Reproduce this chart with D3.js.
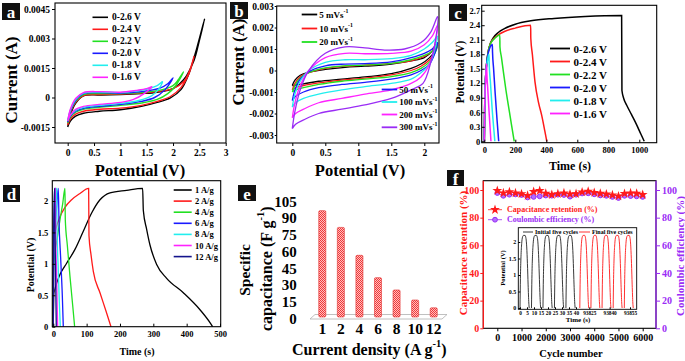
<!DOCTYPE html>
<html><head><meta charset="utf-8">
<script src="https://cdn.jsdelivr.net/npm/d3@7"></script>
<style>
body{margin:0;background:#fff}
svg{display:block}
text{font-family:"Liberation Serif","Times New Roman",serif;font-weight:bold}
</style>
</head><body>
<svg id="chart" width="685" height="361"></svg>
<script>
// ---------------- DATA ----------------
// Panel a: CV at different potential windows (V, A)
const aLabels = ["0-2.6 V","0-2.4 V","0-2.2 V","0-2.0 V","0-1.8 V","0-1.6 V"];
const cvA26 = [[0,-0.0015],[0.05,-0.0012],[0.15,-0.00095],[0.3,-0.0008],[0.6,-0.0007],[1.0,-0.00062],[1.4,-0.00045],[1.7,-0.00025],[1.95,-0.00002],[2.15,0.0004],[2.3,0.0012],[2.45,0.0025],[2.6,0.004],[2.5,0.0029],[2.4,0.0019],[2.2,0.0009],[2.0,0.00045],[1.7,0.00027],[1.4,0.0002],[1.0,0.00015],[0.6,0.00013],[0.3,0.00008],[0.15,-0.0003],[0.05,-0.0009],[0,-0.0015]];
const cvA24 = [[0,-0.0014],[0.05,-0.0011],[0.15,-0.00085],[0.3,-0.0007],[0.6,-0.0006],[1.0,-0.00054],[1.4,-0.0004],[1.7,-0.0002],[1.95,0.00005],[2.15,0.0005],[2.3,0.0012],[2.4,0.0021],[2.32,0.0014],[2.2,0.0008],[2.0,0.00045],[1.7,0.0003],[1.4,0.00022],[1.0,0.00017],[0.6,0.00015],[0.3,0.0001],[0.15,-0.00025],[0.05,-0.0008],[0,-0.0014]];
const cvA22 = [[0,-0.0013],[0.05,-0.001],[0.15,-0.00075],[0.3,-0.0006],[0.6,-0.0005],[1.0,-0.0004],[1.4,-0.00028],[1.7,-0.0001],[1.9,0.0002],[2.05,0.0006],[2.2,0.0013],[2.1,0.0009],[2.0,0.0006],[1.8,0.0004],[1.4,0.00025],[1.0,0.0002],[0.6,0.0002],[0.3,0.00015],[0.15,-0.0002],[0.05,-0.0007],[0,-0.0013]];
const cvA20 = [[0,-0.00125],[0.05,-0.00095],[0.15,-0.0007],[0.3,-0.00055],[0.6,-0.00045],[1.0,-0.00035],[1.4,-0.0002],[1.65,0.0],[1.85,0.0004],[2.0,0.001],[1.9,0.0007],[1.75,0.00048],[1.4,0.0003],[1.0,0.00022],[0.6,0.00025],[0.3,0.0002],[0.15,-0.00015],[0.05,-0.0007],[0,-0.00125]];
const cvA18 = [[0,-0.0012],[0.05,-0.0009],[0.15,-0.00065],[0.3,-0.0005],[0.6,-0.0004],[1.0,-0.0003],[1.35,-0.00015],[1.6,0.0001],[1.72,0.0004],[1.8,0.0008],[1.7,0.0006],[1.5,0.00042],[1.2,0.0003],[1.0,0.00025],[0.6,0.00028],[0.3,0.00022],[0.15,-0.0001],[0.05,-0.00065],[0,-0.0012]];
const cvA16 = [[0,-0.0012],[0.05,-0.0009],[0.15,-0.0006],[0.3,-0.00045],[0.6,-0.00035],[1.0,-0.00025],[1.25,-0.0001],[1.45,0.0002],[1.6,0.00055],[1.5,0.00045],[1.3,0.00036],[1.0,0.00027],[0.6,0.0003],[0.3,0.00025],[0.15,-0.00005],[0.05,-0.0006],[0,-0.0012]];
const aXTicks = [0,0.5,1,1.5,2,2.5,3];
const aYTicks = [-0.0015,0,0.0015,0.003,0.0045];

// Panel b: CV at different scan rates
const bLabels = ["5 mVs","10 mVs","20 mVs","50 mVs","100 mVs","200 mVs","300 mVs"];
const cvB5 = [[0,-0.0007],[0.04,-0.00045],[0.12,-0.00022],[0.25,-0.00008],[0.5,0.00005],[0.8,0.00015],[1.1,0.0002],[1.5,0.0003],[1.8,0.00045],[2.0,0.0006],[2.12,0.0009],[2.2,0.0013],[2.16,0.0009],[2.08,0.0006],[1.95,0.0003],[1.8,0.0001],[1.5,-0.00015],[1.1,-0.0003],[0.75,-0.0004],[0.4,-0.0005],[0.17,-0.00062],[0.05,-0.00068],[0,-0.0007]];
const cvB10 = [[0,-0.0009],[0.04,-0.0006],[0.12,-0.00028],[0.25,-0.0001],[0.5,0.0001],[0.8,0.0002],[1.1,0.00025],[1.5,0.00033],[1.8,0.00045],[2.0,0.00065],[2.12,0.0009],[2.2,0.00125],[2.16,0.00085],[2.08,0.0005],[1.95,0.0002],[1.8,0.0],[1.5,-0.0002],[1.1,-0.00035],[0.75,-0.00045],[0.4,-0.00058],[0.17,-0.0007],[0.05,-0.0008],[0,-0.0009]];
const cvB20 = [[0,-0.001],[0.04,-0.0007],[0.12,-0.00035],[0.25,-0.0001],[0.5,0.00012],[0.8,0.00022],[1.1,0.00025],[1.5,0.00033],[1.8,0.0005],[2.0,0.0007],[2.12,0.0009],[2.2,0.0012],[2.16,0.0008],[2.08,0.0004],[1.95,0.0001],[1.8,-0.0001],[1.5,-0.00028],[1.1,-0.0004],[0.75,-0.0005],[0.4,-0.00065],[0.17,-0.0008],[0.05,-0.0009],[0,-0.001]];
const cvB50 = [[0,-0.0014],[0.04,-0.0009],[0.12,-0.0004],[0.25,-0.00005],[0.5,0.00022],[0.8,0.0003],[1.1,0.00032],[1.5,0.0004],[1.8,0.0006],[2.0,0.0008],[2.12,0.001],[2.2,0.0013],[2.16,0.0008],[2.08,0.0003],[1.95,0.0],[1.8,-0.0002],[1.5,-0.0004],[1.1,-0.00055],[0.75,-0.00065],[0.4,-0.0008],[0.17,-0.001],[0.05,-0.0012],[0,-0.0014]];
const cvB100 = [[0,-0.0017],[0.04,-0.0011],[0.12,-0.0005],[0.25,0.0],[0.5,0.00038],[0.8,0.0005],[1.1,0.0005],[1.5,0.00055],[1.8,0.0007],[2.0,0.001],[2.12,0.0013],[2.2,0.0016],[2.16,0.001],[2.08,0.0003],[1.95,-0.0001],[1.8,-0.0004],[1.5,-0.0006],[1.1,-0.00075],[0.75,-0.0009],[0.4,-0.0011],[0.17,-0.0013],[0.05,-0.0015],[0,-0.0017]];
const cvB200 = [[0,-0.0022],[0.04,-0.0015],[0.12,-0.0007],[0.25,0.0],[0.5,0.0006],[0.8,0.0008],[1.1,0.00078],[1.5,0.0008],[1.8,0.0009],[2.0,0.0012],[2.12,0.0016],[2.2,0.0021],[2.16,0.0012],[2.08,0.0003],[1.95,-0.0003],[1.8,-0.0006],[1.5,-0.0009],[1.1,-0.0011],[0.75,-0.0013],[0.4,-0.0015],[0.17,-0.0018],[0.05,-0.002],[0,-0.0022]];
const cvB300 = [[0,-0.0027],[0.04,-0.0019],[0.12,-0.0009],[0.25,0.0],[0.5,0.0008],[0.8,0.0011],[1.1,0.00105],[1.4,0.00095],[1.7,0.001],[1.95,0.0013],[2.1,0.0018],[2.2,0.0025],[2.17,0.0014],[2.1,0.0004],[1.98,-0.0006],[1.8,-0.0009],[1.5,-0.0013],[1.1,-0.0016],[0.75,-0.0018],[0.4,-0.002],[0.17,-0.0023],[0.05,-0.0025],[0,-0.0027]];
const bXTicks = [0,0.5,1,1.5,2];
const bYTicks = [-0.003,-0.002,-0.001,0,0.001,0.002,0.003];

// Panel c: GCD at different windows (s, V)
const cLabels = ["0-2.6 V","0-2.4 V","0-2.2 V","0-2.0 V","0-1.8 V","0-1.6 V"];
const gcdC26 = [[0,0],[3,0.8],[8,1.3],[15,1.6],[25,1.85],[40,2.03],[60,2.15],[90,2.25],[130,2.33],[200,2.42],[300,2.49],[450,2.54],[650,2.58],[886,2.6],[888,1.05],[900,0.88],[918,0.75],[950,0.55],[983,0.34],[1010,0.15],[1032,0]];
const gcdC24 = [[0,0],[3,0.8],[8,1.3],[15,1.6],[25,1.85],[40,2.02],[60,2.12],[90,2.2],[130,2.27],[200,2.34],[299,2.4],[300,2.13],[310,1.8],[327,1.23],[350,0.8],[370,0.54],[390,0.22],[403,0]];
const gcdC22 = [[0,0],[3,0.8],[8,1.3],[15,1.6],[25,1.85],[40,2.02],[65,2.12],[100,2.2],[101,1.95],[110,1.75],[123,1.44],[140,1.05],[155,0.75],[175,0.35],[193,0]];
const gcdC20 = [[0,0],[3,0.8],[8,1.3],[15,1.6],[25,1.82],[38,1.95],[52,2.0],[53,1.85],[60,1.5],[70,1.0],[82,0.45],[93,0]];
const gcdC18 = [[0,0],[3,0.8],[8,1.3],[15,1.55],[22,1.7],[30,1.8],[31,1.65],[40,1.2],[50,0.7],[60,0.3],[68,0]];
const gcdC16 = [[0,0],[3,0.8],[8,1.25],[15,1.6],[16,1.45],[22,1.1],[30,0.65],[37,0.3],[43,0]];
const cXTicks = [0,200,400,600,800,1000];
const cYTicks = [0,0.3,0.6,0.9,1.2,1.5,1.8,2.1,2.4,2.7];

// Panel d: GCD at different current densities (s, V)
const dLabels = ["1 A/g","2 A/g","4 A/g","6 A/g","8 A/g","10 A/g","12 A/g"];
const gcdD1 = [[0,0],[1,0.5],[5,0.6],[20,0.83],[40,1.01],[65,1.23],[90,1.52],[115,1.81],[140,2.02],[170,2.13],[220,2.17],[268,2.2],[270,1.85],[280,1.55],[290,1.3],[310,0.99],[340,0.77],[390,0.54],[440,0.27],[472,0.05],[478,0]];
const gcdD2 = [[0,0],[1,1.0],[4,1.45],[10,1.6],[20,1.75],[35,1.9],[55,2.02],[80,2.12],[106,2.2],[107,1.45],[113,1.15],[120,0.88],[140,0.54],[158,0.25],[173,0]];
const gcdD4 = [[0,0],[1,0.9],[4,1.15],[10,1.35],[20,1.7],[28,1.95],[35,2.2],[36,1.7],[42,1.3],[50,0.8],[58,0.35],[64,0]];
const gcdD6 = [[0,0],[1,1.2],[5,1.6],[10,1.9],[15,2.2],[17,1.7],[22,1.1],[27,0.5],[30,0]];
const gcdD8 = [[0,0],[1,1.3],[4,1.7],[7,2.0],[10,2.2],[11,1.6],[15,0.9],[18,0.4],[21,0]];
const gcdD10 = [[0,0],[1,1.4],[3,1.8],[6,2.2],[7,1.6],[10,0.8],[13,0]];
const gcdD12 = [[0,0],[1,1.5],[2,1.9],[4,2.2],[5,1.6],[7,0.8],[9,0]];
const dXTicks = [0,100,200,300,400,500];
const dYTicks = [0,0.5,1,1.5,2];

// Panel e: specific capacitance
const eCats = ["1","2","4","6","8","10","12"];
const eVals = [97,82,57,37,26,17,10];
const eYTicks = [0,15,30,45,60,75,90,105];

// Panel f: cycling stability
const fCycles = [0,250,500,750,1000,1250,1500,1750,2000,2250,2500,2750,3000,3250,3500,3750,4000,4250,4500,4750,5000,5250,5500,5750,6000];
const fRetention = [99.5,97.8,98.6,97.8,97.2,96.0,98.8,99.5,97.5,96.6,97.3,97.8,97.0,97.3,98.5,99.0,98.1,97.5,97.0,96.4,95.6,97.4,97.8,97.5,96.6];
const fEfficiency = [97.8,95.8,96.6,96.8,96.4,94.6,95.0,95.4,96.0,95.9,96.6,96.4,95.2,96.6,97.5,97.6,96.9,96.1,95.8,95.0,94.2,95.8,95.6,95.4,95.0];
const fXTicks = [0,1000,2000,3000,4000,5000,6000];
const fYTicks = [0,20,40,60,80,100];
// inset: one GCD cycle (s, V) and cycle start times
const insetCycle = [[0,0],[0.3,0.9],[0.7,1.55],[1.2,1.95],[1.8,2.15],[2.5,2.2],[3.6,2.2],[4.3,2.1],[4.8,1.85],[5.3,1.35],[5.8,0.7],[6.3,0.15],[6.6,0]];
const insetStartsInitial = [0,8.2,16.4,24.6,32.8];
const insetStartsFinal = [93818,93826.2,93834.4,93842.6,93850.8];
const insetX1Ticks = [0,5,10,15,20,25,30,35,40];
const insetX2Ticks = [93825,93840,93855];
const insetYTicks = [0,0.5,1,1.5,2];

// ---------------- DRAW ----------------
const svg = d3.select("#chart");
const COL = {k:"#000000", r:"#ff1a1a", g:"#22e022", b:"#1a1aff", c:"#22eeee", m:"#ff22ff", p:"#9a2cf5", n:"#14148c"};

function frame(x0,y0,x1,y1,col){
  svg.append("rect").attr("x",x0).attr("y",y0).attr("width",x1-x0).attr("height",y1-y0)
    .attr("fill","none").attr("stroke",col||"#000").attr("stroke-width",1.1);
}
function axis(gen, tx, ty, fs, col){
  const g = svg.append("g").attr("transform",`translate(${tx},${ty})`).call(gen);
  g.select(".domain").remove();
  g.selectAll("line").attr("stroke",col||"#000");
  g.selectAll("text").style("font-size",fs+"px").attr("fill",col||"#000");
  return g;
}
function label(txt,x,y,fs,opts){
  opts=opts||{};
  const t = svg.append("text").attr("x",x).attr("y",y).style("font-size",fs+"px")
    .attr("text-anchor",opts.anchor||"middle").attr("fill",opts.fill||"#000");
  if(opts.rot) t.attr("transform",`rotate(${opts.rot},${x},${y})`);
  if(opts.dominant) t.attr("dominant-baseline",opts.dominant);
  t.text(txt);
  return t;
}
function supText(parts,x,y,fs,opts){
  opts=opts||{};
  const t = svg.append("text").attr("x",x).attr("y",y).style("font-size",fs+"px")
    .attr("text-anchor",opts.anchor||"start").attr("fill",opts.fill||"#000");
  if(opts.rot) t.attr("transform",`rotate(${opts.rot},${x},${y})`);
  t.attr("dominant-baseline","central");
  t.append("tspan").text(parts[0]);
  t.append("tspan").attr("dy",-fs*0.38).style("font-size",(fs*0.65)+"px").text(parts[1]);
  if(parts[2]!==undefined) t.append("tspan").attr("dy",fs*0.38).text(parts[2]);
  return t;
}
function panelTag(letter,x,y,w,h){
  svg.append("rect").attr("x",x).attr("y",y).attr("width",w).attr("height",h).attr("fill","#111");
  svg.append("text").attr("x",x+w/2).attr("y",y+h/2+1).attr("text-anchor","middle")
    .attr("dominant-baseline","central").attr("fill","#fff").style("font-size","17px").text(letter);
}
const fmt = d=>String(+d.toFixed(5));

// ===== Panel a =====
{
  const x = d3.scaleLinear().domain([0,3]).range([67.7,225.7]);
  const y = d3.scaleLinear().domain([-0.0015,0.0045]).range([127,9]);
  const line = d3.line().x(d=>x(d[0])).y(d=>y(d[1])).curve(d3.curveCatmullRom.alpha(0.5));
  const series = [[cvA26,COL.k],[cvA24,COL.r],[cvA22,COL.g],[cvA20,COL.b],[cvA18,COL.c],[cvA16,COL.m]];
  series.forEach(s=>svg.append("path").attr("d",line(s[0])).attr("fill","none").attr("stroke",s[1]).attr("stroke-width",1.4));
  frame(55,3,226,143);
  axis(d3.axisBottom(x).tickValues(aXTicks).tickFormat(fmt).tickSize(3).tickPadding(3),0,143,9.5);
  axis(d3.axisLeft(y).tickValues(aYTicks).tickFormat(fmt).tickSize(3).tickPadding(2),55,0,9.5);
  label("Current (A)",17,80,17,{rot:-90});
  label("Potential (V)",140,176,16.5);
  aLabels.forEach((t,i)=>{
    const yy = 17.3+12*i;
    svg.append("line").attr("x1",92.5).attr("x2",108).attr("y1",yy).attr("y2",yy).attr("stroke",series[i][1]).attr("stroke-width",1.6);
    label(t,112,yy,9.5,{anchor:"start",dominant:"central"});
  });
  panelTag("a",2,3,18,17);
}

// ===== Panel b =====
{
  const x = d3.scaleLinear().domain([0,2]).range([292.3,424.3]);
  const y = d3.scaleLinear().domain([-0.003,0.003]).range([135,6]);
  const line = d3.line().x(d=>x(d[0])).y(d=>y(d[1])).curve(d3.curveCatmullRom.alpha(0.5));
  const series = [[cvB5,COL.k],[cvB10,COL.r],[cvB20,COL.g],[cvB50,COL.b],[cvB100,COL.c],[cvB200,COL.m],[cvB300,COL.p]];
  series.forEach(s=>svg.append("path").attr("d",line(s[0])).attr("fill","none").attr("stroke",s[1]).attr("stroke-width",1.3));
  frame(276.7,6,439,143);
  axis(d3.axisBottom(x).tickValues(bXTicks).tickFormat(fmt).tickSize(3).tickPadding(3),0,143,9.5);
  axis(d3.axisLeft(y).tickValues(bYTicks).tickFormat(fmt).tickSize(2).tickPadding(1),276.7,0,9.5);
  label("Current (A)",244,62,17,{rot:-90});
  label("Potential (V)",360,176,16.5);
  const pos = [[301.7,14.5],[301.7,28.5],[301.7,42],[381.7,89.5],[381.7,102],[381.7,114.5],[381.7,127.3]];
  bLabels.forEach((t,i)=>{
    const [lx,ly]=pos[i];
    svg.append("line").attr("x1",lx).attr("x2",lx+15.5).attr("y1",ly).attr("y2",ly).attr("stroke",series[i][1]).attr("stroke-width",1.8);
    supText([t+"","-1"],lx+17.5,ly,9);
  });
  panelTag("b",230,2,18,17);
}

// ===== Panel c =====
{
  const x = d3.scaleLinear().domain([0,1000]).range([484.3,639.3]);
  const y = d3.scaleLinear().domain([0,2.7]).range([141.3,10.7]);
  const line = d3.line().x(d=>x(d[0])).y(d=>y(d[1])).curve(d3.curveMonotoneX);
  const series = [[gcdC26,COL.k],[gcdC24,COL.r],[gcdC22,COL.g],[gcdC20,COL.b],[gcdC18,COL.c],[gcdC16,COL.m]];
  series.forEach(s=>svg.append("path").attr("d",line(s[0])).attr("fill","none").attr("stroke",s[1]).attr("stroke-width",1.5));
  frame(481.7,5.3,656.7,142.7);
  axis(d3.axisBottom(x).tickValues(cXTicks).tickFormat(fmt).tickSize(-3).tickPadding(4),0,142.7,8.5);
  axis(d3.axisLeft(y).tickValues(cYTicks).tickFormat(fmt).tickSize(-3).tickPadding(1.5),481.7,0,8.5);
  label("Potential (V)",464,72,11.5,{rot:-90});
  label("Time (s)",570,170,12);
  cLabels.forEach((t,i)=>{
    const yy=48.5+13*i;
    svg.append("line").attr("x1",550).attr("x2",570).attr("y1",yy).attr("y2",yy).attr("stroke",series[i][1]).attr("stroke-width",1.8);
    label(t,573.5,yy,11,{anchor:"start",dominant:"central"});
  });
  panelTag("c",449,4,18,17);
}

// ===== Panel d =====
{
  const x = d3.scaleLinear().domain([0,500]).range([53.3,220]);
  const y = d3.scaleLinear().domain([0,2]).range([326.7,201]);
  const line = d3.line().x(d=>x(d[0])).y(d=>y(d[1])).curve(d3.curveMonotoneX);
  const series = [[gcdD1,COL.k],[gcdD2,COL.r],[gcdD4,COL.g],[gcdD6,COL.b],[gcdD8,COL.c],[gcdD10,COL.m],[gcdD12,COL.n]];
  series.forEach(s=>svg.append("path").attr("d",line(s[0])).attr("fill","none").attr("stroke",s[1]).attr("stroke-width",1.3));
  frame(52.3,180.7,220.7,326.7);
  axis(d3.axisBottom(x).tickValues(dXTicks).tickFormat(fmt).tickSize(-3).tickPadding(4),0,326.7,8.5);
  axis(d3.axisLeft(y).tickValues(dYTicks).tickFormat(fmt).tickSize(-3).tickPadding(4),52.3,0,8.5);
  label("Potential (V)",34,265,10,{rot:-90});
  label("Time (s)",137,355,10);
  dLabels.forEach((t,i)=>{
    const yy=190+11.1*i;
    svg.append("line").attr("x1",173.7).attr("x2",191.7).attr("y1",yy).attr("y2",yy).attr("stroke",series[i][1]).attr("stroke-width",1.6);
    label(t,195,yy,8.5,{anchor:"start",dominant:"central"});
  });
  panelTag("d",3,185,17,17);
}

// ===== Panel e =====
{
  const defs = svg.append("defs");
  const pat = defs.append("pattern").attr("id","chk").attr("width",2).attr("height",2).attr("patternUnits","userSpaceOnUse");
  pat.append("rect").attr("width",2).attr("height",2).attr("fill","#ffc0c0");
  pat.append("rect").attr("width",1).attr("height",1).attr("fill","#f03838");
  pat.append("rect").attr("x",1).attr("y",1).attr("width",1).attr("height",1).attr("fill","#f03838");
  const x = d3.scaleBand().domain(eCats).range([313,443]).paddingInner(0.62).paddingOuter(0.31);
  const y = d3.scaleLinear().domain([0,105]).range([319,201.7]);
  // 3D floor
  svg.append("path").attr("d","M310,319 L315,314.5 L447,314.5 L442,319 Z").attr("fill","none").attr("stroke","#b0b0b0").attr("stroke-width",0.8);
  svg.selectAll(".ebar").data(eVals).enter().append("rect")
    .attr("x",(d,i)=>x(eCats[i])).attr("y",d=>y(d)).attr("width",x.bandwidth())
    .attr("height",d=>y(0)-2-y(d)).attr("rx",1.2)
    .attr("fill","url(#chk)").attr("stroke","#e03030").attr("stroke-width",0.6);
  eCats.forEach((c,i)=>label(c,x(c)+x.bandwidth()/2,328.5,15.5,{dominant:"central"}));
  eYTicks.forEach(v=>label(String(v),296.7,y(v),15,{anchor:"end",dominant:"central"}));
  label("Specific",250,270,15.5,{rot:-90});
  supText(["capacitance (F g","-1",")"],266,331,16,{rot:-90});
  supText(["Current density (A g","-1",")"],292,349,16);
  panelTag("e",238,185,18,16);
}

// ===== Panel f =====
{
  const x = d3.scaleLinear().domain([0,6000]).range([497.3,642.7]);
  const y = d3.scaleLinear().domain([0,100]).range([328.3,190]);
  frame(483.3,180.7,656,328.3);
  svg.append("line").attr("x1",483.3).attr("x2",483.3).attr("y1",180.7).attr("y2",328.3).attr("stroke",COL.r).attr("stroke-width",1.3);
  svg.append("line").attr("x1",656).attr("x2",656).attr("y1",180.7).attr("y2",328.3).attr("stroke",COL.p).attr("stroke-width",1.3);
  axis(d3.axisBottom(x).tickValues(fXTicks).tickFormat(fmt).tickSize(3).tickPadding(3),0,328.3,10);
  axis(d3.axisLeft(y).tickValues(fYTicks).tickFormat(fmt).tickSize(3).tickPadding(1),483.3,0,10,COL.r);
  axis(d3.axisRight(y).tickValues(fYTicks).tickFormat(fmt).tickSize(4).tickPadding(2),656,0,10,COL.p);
  const ln = d3.line().x((d,i)=>x(fCycles[i])).y(d=>y(d));
  svg.append("path").attr("d",ln(fEfficiency)).attr("fill","none").attr("stroke",COL.p).attr("stroke-width",0.7);
  svg.append("path").attr("d",ln(fRetention)).attr("fill","none").attr("stroke",COL.r).attr("stroke-width",0.7);
  const star = d3.symbol().type(d3.symbolStar).size(30);
  svg.selectAll(".eff").data(fEfficiency).enter().append("circle")
    .attr("cx",(d,i)=>x(fCycles[i])).attr("cy",d=>y(d)).attr("r",2.4)
    .attr("fill","#b070ff").attr("stroke",COL.p).attr("stroke-width",1);
  svg.selectAll(".ret").data(fRetention).enter().append("path")
    .attr("d",star).attr("transform",(d,i)=>`translate(${x(fCycles[i])},${y(d)})`).attr("fill",COL.r);
  // legend
  svg.append("line").attr("x1",488).attr("x2",502).attr("y1",209.7).attr("y2",209.7).attr("stroke",COL.r).attr("stroke-width",0.8);
  svg.append("path").attr("d",star).attr("transform","translate(495,209.7)").attr("fill",COL.r);
  label("Capacitance retention (%)",507,209.7,8,{anchor:"start",dominant:"central",fill:COL.r});
  svg.append("line").attr("x1",488).attr("x2",502).attr("y1",219.7).attr("y2",219.7).attr("stroke",COL.p).attr("stroke-width",0.8);
  svg.append("circle").attr("cx",495).attr("cy",219.7).attr("r",2.4).attr("fill","#b070ff").attr("stroke",COL.p);
  label("Coulombic efficiency (%)",507,219.7,8,{anchor:"start",dominant:"central",fill:COL.p});
  label("Capacitance retention (%)",466.5,253,11,{rot:-90,fill:COL.r});
  label("Coulombic efficiency (%)",684,256,11,{rot:-90,fill:COL.p});
  label("Cycle number",571,357,10.5);

  // inset
  const xi1 = d3.scaleLinear().domain([0,40]).range([520,576]);
  const xi2 = d3.scaleLinear().domain([93825,93855]).range([589.3,630]);
  const yi = d3.scaleLinear().domain([0,2]).range([308,242]);
  svg.append("rect").attr("x",518.3).attr("y",227.7).attr("width",118.4).attr("height",81.6).attr("fill","#fff").attr("stroke","#000").attr("stroke-width",0.9);
  const l1 = d3.line().curve(d3.curveMonotoneX);
  insetStartsInitial.forEach(t0=>{
    svg.append("path").attr("d",l1(insetCycle.map(p=>[xi1(t0+p[0]),yi(p[1])]))).attr("fill","none").attr("stroke","#222").attr("stroke-width",0.9);
  });
  insetStartsFinal.forEach(t0=>{
    svg.append("path").attr("d",l1(insetCycle.map(p=>[xi2(t0+p[0]),yi(p[1])]))).attr("fill","none").attr("stroke",COL.r).attr("stroke-width",0.9);
  });
  axis(d3.axisBottom(xi1).tickValues(insetX1Ticks).tickFormat(fmt).tickSize(-2).tickPadding(2),0,309.3,5.3);
  axis(d3.axisBottom(xi2).tickValues(insetX2Ticks).tickFormat(fmt).tickSize(-2).tickPadding(2),0,309.3,5.3);
  axis(d3.axisLeft(yi).tickValues(insetYTicks).tickFormat(fmt).tickSize(-2).tickPadding(2),518.3,0,6);
  label("Potential (V)",505,268,6.5,{rot:-90});
  label("Time (s)",578,321.5,7);
  svg.append("line").attr("x1",523).attr("x2",533).attr("y1",232).attr("y2",232).attr("stroke","#222").attr("stroke-width",0.9);
  label("Initial five cycles",535,232,6,{anchor:"start",dominant:"central"});
  svg.append("line").attr("x1",579).attr("x2",590).attr("y1",232).attr("y2",232).attr("stroke",COL.r).attr("stroke-width",0.9);
  label("Final five cycles",592,232,6,{anchor:"start",dominant:"central"});
  panelTag("f",447,170,17,16);
}
</script>
</body></html>
